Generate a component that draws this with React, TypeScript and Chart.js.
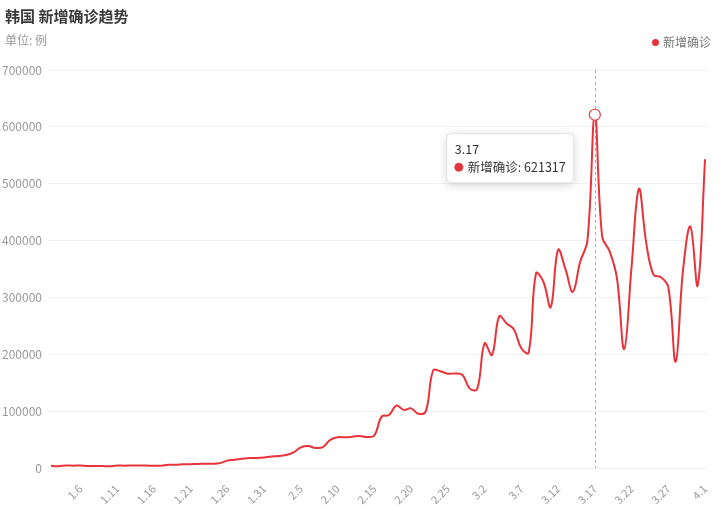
import React, { useEffect, useRef } from "react";
import { Chart, registerables, Tooltip } from "chart.js";

Chart.register(...registerables);

const TITLE = "韩国 新增确诊趋势";
const SUBTITLE = "单位: 例";
const SERIES_NAME = "新增确诊";
const HIGHLIGHT_INDEX = 74;
const LINE_COLOR = "#e8333b";
const FONT = "'Noto Sans CJK SC', 'Noto Sans', sans-serif";

const dates = [
  "1.2", "1.3", "1.4", "1.5", "1.6", "1.7", "1.8", "1.9", "1.10", "1.11",
  "1.12", "1.13", "1.14", "1.15", "1.16", "1.17", "1.18", "1.19", "1.20", "1.21",
  "1.22", "1.23", "1.24", "1.25", "1.26", "1.27", "1.28", "1.29", "1.30", "1.31",
  "2.1", "2.2", "2.3", "2.4", "2.5", "2.6", "2.7", "2.8", "2.9", "2.10",
  "2.11", "2.12", "2.13", "2.14", "2.15", "2.16", "2.17", "2.18", "2.19", "2.20",
  "2.21", "2.22", "2.23", "2.24", "2.25", "2.26", "2.27", "2.28", "3.1", "3.2",
  "3.3", "3.4", "3.5", "3.6", "3.7", "3.8", "3.9", "3.10", "3.11", "3.12",
  "3.13", "3.14", "3.15", "3.16", "3.17", "3.18", "3.19", "3.20", "3.21", "3.22",
  "3.23", "3.24", "3.25", "3.26", "3.27", "3.28", "3.29", "3.30", "3.31", "4.1",
];

const newCases = [
  3833, 3126, 4442, 4126, 4444, 3717, 3511, 3376, 3005, 4388,
  4167, 4542, 4422, 4195, 3858, 4071, 5804, 5805, 6603, 6769,
  7009, 7630, 7513, 8571, 13012, 14518, 16096, 17542, 17528, 18342,
  20270, 20908, 22907, 27443, 36362, 38691, 35286, 36719, 49567, 54122,
  53926, 54941, 56431, 54619, 57177, 90443, 93135, 109831, 102211, 104829,
  95362, 99573, 171452, 170016, 165890, 166209, 163565, 139626, 138993, 219241,
  198803, 266853, 254327, 243628, 210716, 202721, 342446, 327549, 282987, 383665,
  350190, 309790, 362338, 400741, 621317, 407017, 381454, 334708, 209169, 353980,
  490881, 395598, 339514, 335580, 318130, 187213, 347554, 424641, 320743, 543000,
];

const xTickIndices = [4, 9, 14, 19, 24, 29, 34, 39, 44, 49, 54, 59, 64, 69, 74, 79, 84, 89];
const Y_MIN = 0;
const Y_MAX = 700000;
const Y_STEP = 100000;

(Tooltip.positioners as any).besidePoint = function (items: any[]) {
  if (!items.length) return false;
  const el = items[0].element;
  return { x: el.x - 144, y: el.y + 19 };
};

const crosshairPlugin = {
  id: "crosshair",
  beforeDatasetsDraw(chart: any) {
    const act = chart.getActiveElements();
    if (!act.length) return;
    const x = act[0].element.x;
    const { top, bottom } = chart.chartArea;
    const ctx = chart.ctx;
    ctx.save();
    ctx.strokeStyle = "#aaaaaa";
    ctx.lineWidth = 1;
    ctx.setLineDash([3, 3]);
    ctx.beginPath();
    ctx.moveTo(Math.round(x) + 0.5, top);
    ctx.lineTo(Math.round(x) + 0.5, bottom);
    ctx.stroke();
    ctx.restore();
  },
};

const tooltipShadowPlugin = {
  id: "tooltipShadow",
  beforeTooltipDraw(chart: any, args: any) {
    const t = args.tooltip;
    if (!t || !t.opacity) return;
    const ctx = chart.ctx;
    ctx.save();
    ctx.shadowColor = "rgba(0,0,0,0.18)";
    ctx.shadowBlur = 10;
    ctx.shadowOffsetY = 2;
    ctx.fillStyle = "#ffffff";
    ctx.beginPath();
    ctx.roundRect(t.x, t.y, t.width, t.height, 4);
    ctx.fill();
    ctx.restore();
  },
};

export default function App() {
  const canvasRef = useRef<HTMLCanvasElement | null>(null);

  useEffect(() => {
    if (!canvasRef.current) return;
    const chart = new Chart(canvasRef.current, {
      type: "line",
      data: {
        datasets: [
          {
            label: SERIES_NAME,
            data: newCases.map((v, i) => ({ x: i, y: v })),
            borderColor: LINE_COLOR,
            backgroundColor: LINE_COLOR,
            borderWidth: 2,
            tension: 0.4,
            pointRadius: 0,
            pointHoverRadius: 5.5,
            pointHoverBorderWidth: 1.2,
            pointHoverBackgroundColor: "#ffffff",
            pointHoverBorderColor: LINE_COLOR,
            fill: false,
          },
        ],
      },
      options: {
        responsive: false,
        animation: false,
        layout: { padding: { top: 70, right: 19, bottom: 0, left: 0 } },
        interaction: { mode: "index", intersect: false },
        events: [],
        scales: {
          x: {
            type: "linear",
            min: -0.4,
            max: 89.4,
            bounds: "data",
            afterBuildTicks: (scale: any) => {
              scale.ticks = xTickIndices.map((v) => ({ value: v }));
            },
            afterFit: (scale: any) => {
              scale.height = 43;
            },
            grid: { display: false },
            border: { display: false },
            ticks: {
              autoSkip: false,
              minRotation: 45,
              maxRotation: 45,
              padding: 6,
              color: "#999999",
              font: { family: FONT, size: 11 },
              callback: (v: any) => dates[v] ?? "",
            },
          },
          y: {
            min: Y_MIN,
            max: Y_MAX,
            afterFit: (scale: any) => {
              scale.width = 48;
            },
            grid: { color: "#f2f2f2", drawTicks: false, lineWidth: 1 },
            border: { display: false },
            ticks: {
              stepSize: Y_STEP,
              padding: 6,
              color: "#999999",
              font: { family: FONT, size: 12 },
              callback: (v: any) => String(v),
            },
          },
        },
        plugins: {
          legend: { display: false },
          title: { display: false },
          tooltip: {
            enabled: true,
            animation: false,
            position: "besidePoint" as any,
            xAlign: "left",
            yAlign: "top",
            caretSize: 0,
            caretPadding: 0,
            cornerRadius: 4,
            backgroundColor: "#ffffff",
            borderColor: "#e2e2e2",
            borderWidth: 1,
            titleColor: "#333333",
            bodyColor: "#333333",
            titleFont: { family: FONT, size: 12.5, weight: "normal" as any },
            bodyFont: { family: FONT, size: 12.5 },
            titleMarginBottom: 3,
            padding: { top: 8, bottom: 8, left: 8, right: 8 },
            displayColors: true,
            usePointStyle: true,
            boxWidth: 8,
            boxHeight: 8,
            boxPadding: 3,
            callbacks: {
              title: (items: any[]) => dates[items[0].dataIndex],
              label: (item: any) => `${SERIES_NAME}: ${item.parsed.y}`,
              labelColor: () => ({ borderColor: LINE_COLOR, backgroundColor: LINE_COLOR, borderWidth: 0 }),
              labelPointStyle: () => ({ pointStyle: "circle", rotation: 0 }),
            },
          },
        },
      },
      plugins: [crosshairPlugin, tooltipShadowPlugin],
    } as any);

    const active = [{ datasetIndex: 0, index: HIGHLIGHT_INDEX }];
    chart.setActiveElements(active);
    chart.tooltip?.setActiveElements(active, { x: 0, y: 0 });
    chart.update();

    return () => chart.destroy();
  }, []);

  return (
    <div style={{ position: "absolute", left: 0, top: 0, width: 727, height: 511, background: "#fff", fontFamily: FONT }}>
      <canvas ref={canvasRef} width={727} height={511} style={{ position: "absolute", left: 0, top: 0, width: 727, height: 511 }} />
      <div style={{ position: "absolute", left: 5, top: 6, fontSize: 15, fontWeight: "bold", color: "#3a3a3a", lineHeight: "20px", whiteSpace: "nowrap" }}>
        {TITLE}
      </div>
      <div style={{ position: "absolute", left: 5, top: 32, fontSize: 12, color: "#999", lineHeight: "16px", whiteSpace: "nowrap" }}>
        {SUBTITLE}
      </div>
      <div style={{ position: "absolute", left: 652, top: 34, fontSize: 12, color: "#777", lineHeight: "16px", whiteSpace: "nowrap", display: "flex", alignItems: "center" }}>
        <span style={{ display: "inline-block", width: 7, height: 7, borderRadius: "50%", background: LINE_COLOR, marginRight: 4 }} />
        {SERIES_NAME}
      </div>
    </div>
  );
}
